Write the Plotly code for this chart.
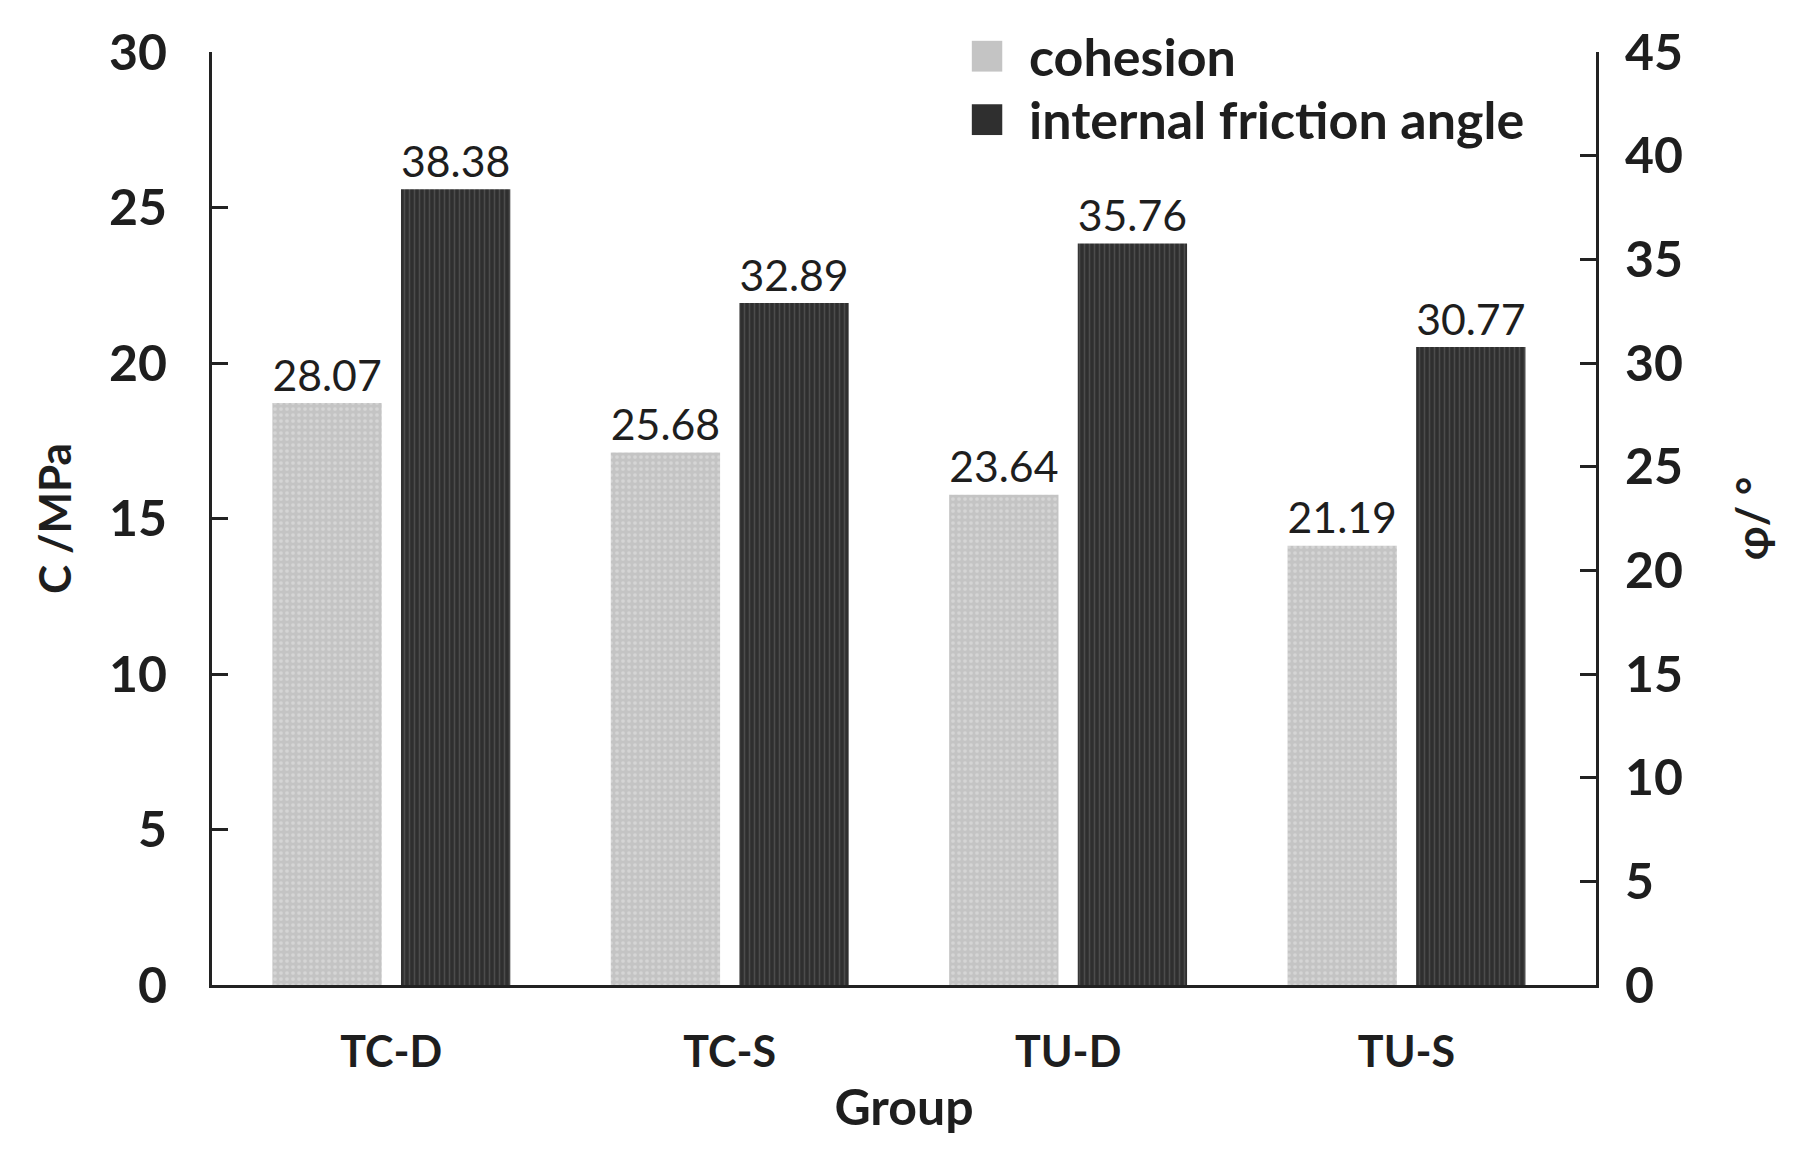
import plotly.graph_objects as go

groups = ["TC-D", "TC-S", "TU-D", "TU-S"]
series_names = ["cohesion", "internal friction angle"]
cohesion = [28.07, 25.68, 23.64, 21.19]
friction = [38.38, 32.89, 35.76, 30.77]
cohesion_labels = ["28.07", "25.68", "23.64", "21.19"]
friction_labels = ["38.38", "32.89", "35.76", "30.77"]
left_ticks = [0, 5, 10, 15, 20, 25, 30]
right_ticks = [0, 5, 10, 15, 20, 25, 30, 35, 40, 45]

FONT = "Lato"
TXT = "#1e1e1e"
COH_COLOR = "#c4c4c4"
FRI_COLOR = "#2f2f2f"

fig = go.Figure()
# invisible trace so the left (C /MPa) axis is drawn
fig.add_trace(go.Scatter(x=[groups[0]], y=[0], yaxis="y", mode="markers",
                         marker=dict(opacity=0), showlegend=False, hoverinfo="skip"))
fig.add_trace(go.Bar(
    x=groups, y=cohesion, name=series_names[0], yaxis="y2",
    text=cohesion_labels, textposition="outside", cliponaxis=False,
    textfont=dict(family=FONT, size=45, color=TXT),
    marker=dict(color=COH_COLOR, line=dict(width=0),
                pattern=dict(shape=".", bgcolor=COH_COLOR, fgcolor="#e6e6e6",
                             size=6, solidity=0.3)),
))
fig.add_trace(go.Bar(
    x=groups, y=friction, name=series_names[1], yaxis="y2",
    text=friction_labels, textposition="outside", cliponaxis=False,
    textfont=dict(family=FONT, size=45, color=TXT),
    marker=dict(color=FRI_COLOR, line=dict(width=0),
                pattern=dict(shape="|", bgcolor=FRI_COLOR, fgcolor="#6a6a6a",
                             size=5, solidity=0.3)),
))

# legend drawn as swatches + text (large swatches as in the reference)
legend_items = [(series_names[0], COH_COLOR, 1.012, 0.979, 0.996),
                (series_names[1], FRI_COLOR, 0.944, 0.911, 0.928)]
shapes = []
annotations = []
for name, col, y1, y0, yt in legend_items:
    shapes.append(dict(type="rect", xref="paper", yref="paper", x0=0.549, x1=0.571,
                       y0=y0, y1=y1, fillcolor=col, line=dict(width=0)))
    annotations.append(dict(text=name, xref="paper", yref="paper", x=0.589, y=yt,
                            xanchor="left", yanchor="middle", showarrow=False,
                            font=dict(family=FONT, size=52, color=TXT, weight="bold")))

fig.update_layout(
    width=1796, height=1155,
    margin=dict(l=204, r=208, t=41, b=178),
    paper_bgcolor="white", plot_bgcolor="white",
    barmode="group", bargap=0.24, bargroupgap=0.15,
    font=dict(family=FONT, color=TXT),
    showlegend=False,
    shapes=shapes, annotations=annotations,
    xaxis=dict(
        range=[-0.53, 3.56], showline=True, linecolor="#222", linewidth=3,
        ticks="", showgrid=False, zeroline=False,
        tickfont=dict(family=FONT, size=43, color=TXT, weight="bold"),
        title=dict(text="Group", font=dict(family=FONT, size=50, color=TXT, weight="bold"), standoff=16),
        ticklabelstandoff=27,
    ),
    yaxis=dict(
        range=[0, 30], tickvals=left_ticks, showline=True, linecolor="#222", linewidth=3,
        ticks="inside", ticklen=16, tickwidth=3, tickcolor="#222",
        showgrid=False, zeroline=False,
        tickfont=dict(family=FONT, size=50, color=TXT, weight="bold"),
        title=dict(text="C /MPa", font=dict(family=FONT, size=44, color=TXT, weight="bold"), standoff=24),
        ticklabelstandoff=32,
    ),
    yaxis2=dict(
        range=[0, 45], tickvals=right_ticks, overlaying="y", side="right",
        showline=True, linecolor="#222", linewidth=3,
        ticks="inside", ticklen=16, tickwidth=3, tickcolor="#222",
        showgrid=False, zeroline=False,
        tickfont=dict(family=FONT, size=50, color=TXT, weight="bold"),
        title=dict(text="φ/ °", font=dict(family=FONT, size=44, color=TXT, weight="bold"), standoff=56),
        ticklabelstandoff=16,
    ),
)

fig.write_html("out.html")
